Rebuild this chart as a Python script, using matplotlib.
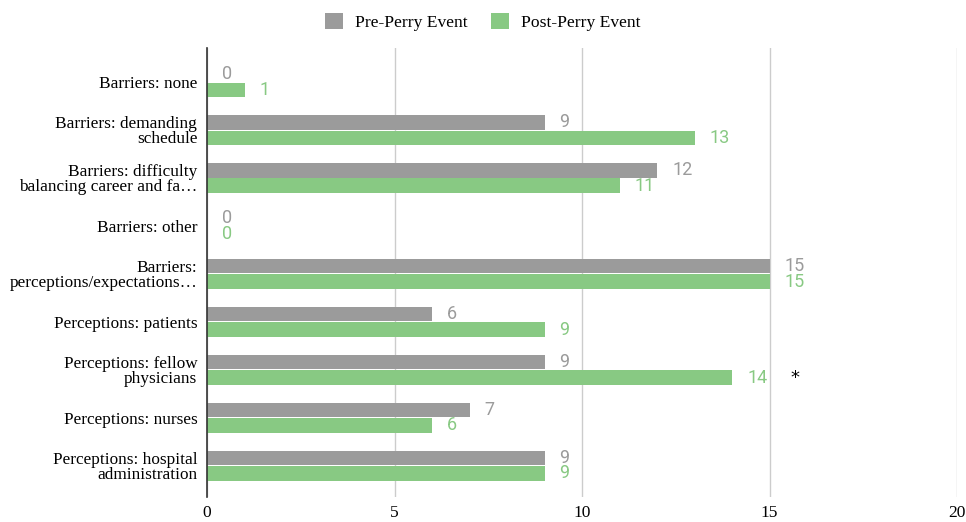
import matplotlib.pyplot as plt
import numpy as np

# categories and counts
categories = [
    "Barriers: none",
    "Barriers: demanding\nschedule",
    "Barriers: difficulty\nbalancing career and fa\u2026",
    "Barriers: other",
    "Barriers:\nperceptions/expectations\u2026",
    "Perceptions: patients",
    "Perceptions: fellow\nphysicians",
    "Perceptions: nurses",
    "Perceptions: hospital\nadministration",
]
pre_perry = [0, 9, 12, 0, 15, 6, 9, 7, 9]
post_perry = [1, 13, 11, 0, 15, 9, 14, 6, 9]
xticks = [0, 5, 10, 15, 20]

gray = "#9b9b9b"
green = "#88c983"

fig = plt.figure(figsize=(9.66, 5.22), dpi=100)
ax = fig.add_axes([0.2143, 0.048, 0.7764, 0.86])

y = np.arange(len(categories))
h = 0.30
ax.barh(y - h / 2 - 0.01, pre_perry, height=h, color=gray, label="Pre-Perry Event", zorder=3)
ax.barh(y + h / 2 + 0.01, post_perry, height=h, color=green, label="Post-Perry Event", zorder=3)

# value labels just past the bar ends
for i in range(len(categories)):
    ax.annotate(str(pre_perry[i]), (pre_perry[i], y[i] - h / 2 - 0.01),
                xytext=(15, 0), textcoords="offset pixels",
                va="center", ha="left", color=gray, fontsize=13, family="Roboto")
    ax.annotate(str(post_perry[i]), (post_perry[i], y[i] + h / 2 + 0.01),
                xytext=(15, 0), textcoords="offset pixels",
                va="center", ha="left", color=green, fontsize=13, family="Roboto")

# significance marker
ax.text(15.68, y[6] + h / 2 + 0.02, "*", color="black", fontsize=13,
        va="center", ha="center", family="DejaVu Sans")

ax.set_xlim(0, 20)
ax.set_ylim(8.65, -0.71)
ax.set_xticks(xticks)
ax.set_xticklabels([str(t) for t in xticks], family="Liberation Serif", fontsize=12.5)
ax.set_yticks(y)
ax.set_yticklabels(categories, family="Liberation Serif", fontsize=12.4,
                   linespacing=0.95)
ax.tick_params(axis="both", length=0)
ax.tick_params(axis="y", pad=7)
ax.tick_params(axis="x", pad=6)

ax.grid(axis="x", color="#cccccc", linewidth=1, zorder=0)
for s in ["top", "right", "bottom"]:
    ax.spines[s].set_visible(False)
ax.spines["left"].set_color("#333333")
ax.spines["left"].set_linewidth(1.2)
ax.spines["left"].set_zorder(4)

leg = fig.legend(loc="upper center", bbox_to_anchor=(0.5, 1.005), ncol=2, frameon=False,
                 prop={"family": "Liberation Serif", "size": 12.6},
                 handlelength=1.0, handleheight=1.0, columnspacing=1.35,
                 handletextpad=0.7)

fig.savefig("out.png", dpi=100)
